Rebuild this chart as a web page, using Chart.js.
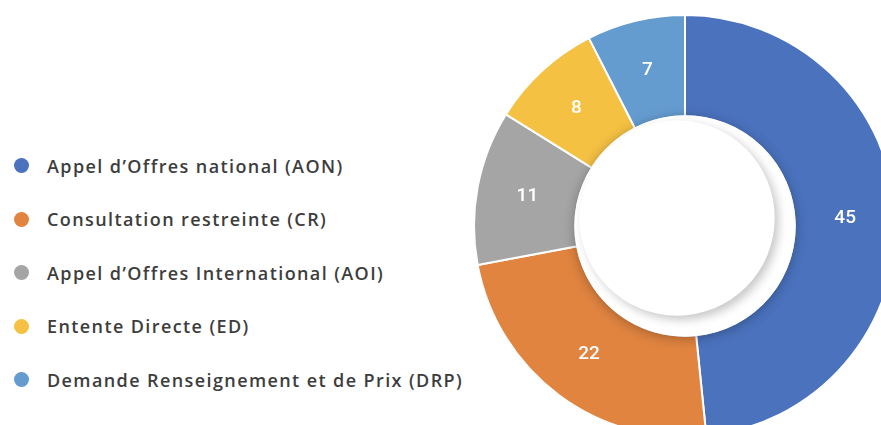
<!DOCTYPE html>
<html lang="fr">
<head>
<meta charset="utf-8">
<script src="https://cdn.jsdelivr.net/npm/chart.js@4.4.1/dist/chart.umd.min.js"></script>
<style>
  html, body {
    margin: 0;
    padding: 0;
    width: 881px;
    height: 425px;
    overflow: hidden;
    background: #ffffff;
  }
  #legend {
    position: absolute;
    left: 14px;
    top: 139px;
    margin: 0;
    padding: 0;
    list-style: none;
    font-family: "Open Sans", sans-serif;
    font-weight: 600;
    font-size: 18px;
    letter-spacing: 1.4px;
    color: #3d3d3d;
  }
  #legend li {
    display: flex;
    align-items: center;
    height: 53.5px;
    white-space: nowrap;
  }
  #legend .dot {
    width: 15px;
    height: 15px;
    border-radius: 50%;
    margin-right: 18px;
    flex: none;
  }
  #pieBox {
    position: absolute;
    left: 473px;
    top: 14px;
    width: 424px;
    height: 424px;
  }
</style>
</head>
<body>
<ul id="legend"></ul>
<div id="pieBox"><canvas id="modeChart"></canvas></div>
<script>
const MODES = [
  "Appel d’Offres national (AON)",
  "Consultation restreinte (CR)",
  "Appel d’Offres International (AOI)",
  "Entente Directe (ED)",
  "Demande Renseignement et de Prix (DRP)"
];
const COUNTS = [45, 22, 11, 8, 7];
const MODE_COLORS = ["#4a72bd", "#e08440", "#a5a5a5", "#f4c143", "#659cd0"];

// legend on the left, built from the same arrays
const legendEl = document.getElementById("legend");
MODES.forEach((name, i) => {
  const li = document.createElement("li");
  const dot = document.createElement("span");
  dot.className = "dot";
  dot.style.background = MODE_COLORS[i];
  li.appendChild(dot);
  li.appendChild(document.createTextNode(name));
  legendEl.appendChild(li);
});

// soft shadow round the hole + white disc + value labels
const holeAndLabels = {
  id: "holeAndLabels",
  afterDatasetsDraw(chart) {
    const ctx = chart.ctx;
    const meta = chart.getDatasetMeta(0);
    const first = meta.data[0];
    if (!first) return;
    const { x, y, innerRadius } = first.getProps(["x", "y", "innerRadius"], true);

    ctx.save();
    ctx.fillStyle = "#ffffff";
    ctx.shadowColor = "rgba(0,0,0,0.28)";
    ctx.shadowBlur = 12;
    ctx.shadowOffsetX = 0;
    ctx.shadowOffsetY = 2;
    ctx.beginPath();
    ctx.arc(x, y, innerRadius + 1, 0, Math.PI * 2);
    ctx.fill();
    ctx.restore();

    ctx.save();
    ctx.fillStyle = "#ffffff";
    ctx.shadowColor = "rgba(0,0,0,0.22)";
    ctx.shadowBlur = 10;
    ctx.shadowOffsetX = 4;
    ctx.shadowOffsetY = 4;
    ctx.beginPath();
    ctx.arc(x - 8, y - 8, innerRadius - 12, 0, Math.PI * 2);
    ctx.fill();
    ctx.restore();

    ctx.save();
    ctx.fillStyle = "#ffffff";
    ctx.font = "500 19px Roboto, sans-serif";
    ctx.textAlign = "center";
    ctx.textBaseline = "middle";
    meta.data.forEach((arc, i) => {
      const p = arc.getCenterPoint();
      ctx.fillText(String(COUNTS[i]), p.x, p.y);
    });
    ctx.restore();
  }
};

new Chart(document.getElementById("modeChart"), {
  type: "doughnut",
  data: {
    labels: MODES,
    datasets: [{
      data: COUNTS,
      backgroundColor: MODE_COLORS,
      borderColor: "#ffffff",
      borderWidth: 2
    }]
  },
  options: {
    responsive: true,
    maintainAspectRatio: false,
    animation: false,
    cutout: "52%",
    layout: { padding: 0 },
    plugins: {
      legend: { display: false },
      tooltip: { enabled: false }
    }
  },
  plugins: [holeAndLabels]
});
</script>
</body>
</html>
